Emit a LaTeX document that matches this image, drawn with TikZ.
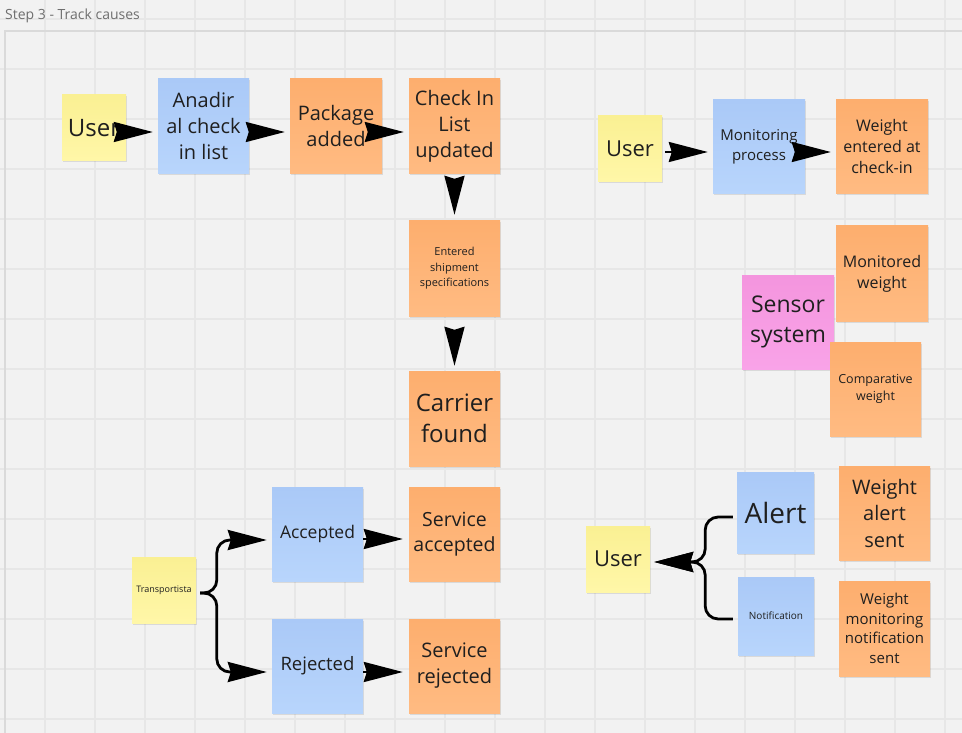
\documentclass[tikz,border=0pt]{standalone}
\usepackage{fontspec}
\setmainfont{Open Sans}
\usetikzlibrary{calc,arrows.meta,shadows}
\definecolor{bgc}{HTML}{F2F2F2}
\definecolor{gridc}{HTML}{E7E7E7}
\definecolor{framec}{HTML}{DADADA}
\definecolor{titlec}{HTML}{6E6E6E}
\definecolor{txtc}{HTML}{1F1F1F}
\definecolor{yelT}{HTML}{FAF093}
\definecolor{yelB}{HTML}{FFF7A8}
\definecolor{bluT}{HTML}{AAC9F7}
\definecolor{bluB}{HTML}{B8D5FC}
\definecolor{orgT}{HTML}{FDAE6E}
\definecolor{orgB}{HTML}{FFBB82}
\definecolor{pnkT}{HTML}{F495DE}
\definecolor{pnkB}{HTML}{F9A3E8}
\newcommand\fsz[2]{\fontsize{#1}{#2}\selectfont}
\tikzset{
  note/.style 2 args={minimum width=#1pt, minimum height=#2pt, inner sep=0pt,
    align=center, text=txtc,
    general shadow={shadow xshift=0.5pt, shadow yshift=-1.5pt, fill=black, opacity=0.10}},
  yel/.style={top color=yelT, bottom color=yelB},
  blu/.style={top color=bluT, bottom color=bluB},
  org/.style={top color=orgT, bottom color=orgB},
  pnk/.style={top color=pnkT, bottom color=pnkB},
  conn/.style={line width=2.4pt, black, -{Stealth[length=39pt,width=20pt,inset=3pt]}},
  bconn/.style={conn, line width=2.8pt, rounded corners=13pt},
}
\begin{document}
\begin{tikzpicture}[x=1pt,y=-1pt]
\useasboundingbox (0,0) rectangle (962,733);
\fill[bgc] (0,0) rectangle (962,733);
\foreach \x in {45,95,...,945} \draw[gridc, line width=1.5pt] (\x,0) -- (\x,733);
\foreach \y in {19,69,...,719} \draw[gridc, line width=1.5pt] (0,\y) -- (962,\y);
\draw[framec, line width=1.2pt] (5,740) -- (5,31) -- (970,31);
\node[anchor=base west, text=titlec, font=\fsz{14}{17}, inner sep=0pt] (title) at (5,19.5) {Step 3 - Track causes};

% top-left flow
\node[note={64}{66}, yel, font=\fsz{24}{30}] (U1) at (94,128) {User};
\node[note={91}{95}, blu, font=\fsz{20}{26}] (Ana) at (203.5,126.5) {Anadir\\al check\\in list};
\node[note={92}{95}, org, font=\fsz{20}{26}] (Pkg) at (336,126.5) {Package\\added};
\node[note={91}{95}, org, font=\fsz{20}{26}] (Chk) at (454.5,126.5) {Check In\\List\\updated};
\node[note={91}{95}, org, font=\fsz{11}{15.5}] (Ent) at (454.5,268.5) {Entered\\shipment\\specifications};
\node[note={91}{95}, org, font=\fsz{24}{31}] (Car) at (454.5,418.5) {Carrier\\found};

% top-right
\node[note={64}{66}, yel, font=\fsz{22}{28}] (U2) at (630,149) {User};
\node[note={92}{94}, blu, font=\fsz{15}{20}] (Mon) at (759,147) {Monitoring\\process};
\node[note={92}{94}, org, font=\fsz{16}{21}] (WEnt) at (882,147) {Weight\\entered at\\check-in};
\node[note={92}{95}, org, font=\fsz{16}{21}] (MonW) at (882,273.5) {Monitored\\weight};
\node[note={92}{94}, pnk, font=\fsz{23}{30.5}] (Sens) at (788,322) {Sensor\\system};
\node[note={91}{94}, org, font=\fsz{12.5}{16.5}] (Comp) at (875.5,389) {Comparative\\weight};

% bottom-left
\node[note={64}{66}, yel, font=\fsz{9}{11}] (Trans) at (164,590) {Transportista};
\node[note={91}{94}, blu, font=\fsz{17.5}{22}] (Acc) at (317.5,534) {Accepted};
\node[note={91}{94}, org, font=\fsz{19.5}{24.5}] (SAcc) at (454.5,534) {Service\\accepted};
\node[note={91}{94}, blu, font=\fsz{18.5}{23}] (Rej) at (317.5,666) {Rejected};
\node[note={91}{94}, org, font=\fsz{20}{26}] (SRej) at (454.5,666) {Service\\rejected};

% bottom-right
\node[note={64}{66}, yel, font=\fsz{22}{28}] (U3) at (618,559) {User};
\node[note={77}{81}, blu, font=\fsz{28}{34}] (Alert) at (775.5,512.5) {Alert};
\node[note={76}{78}, blu, font=\fsz{10}{13}] (Notif) at (776,616) {Notification};
\node[note={91}{94}, org, font=\fsz{20}{26.5}] (WAS) at (884.5,513) {Weight\\alert\\sent};
\node[note={91}{95}, org, font=\fsz{15}{19.5}] (WMNS) at (884.5,628.5) {Weight\\monitoring\\notification\\sent};

% connectors
\draw[conn] ($(U1.east)+(0,4)$) -- ($(Ana.west)+(-5,5.5)$);
\draw[conn] ($(Ana.east)+(0,5.5)$) -- ($(Pkg.west)+(-5,5.5)$);
\draw[conn] ($(Pkg.east)+(0,5.5)$) -- ($(Chk.west)+(-5,5.5)$);
\draw[conn] ($(Chk.south)+(0,6)$) -- ($(Ent.north)+(0,-6)$);
\draw[conn] ($(Ent.south)+(0,14)$) -- ($(Car.north)+(0,-5)$);

\draw[conn] ($(U2.east)+(3,3)$) -- ($(Mon.west)+(-5,5)$);
\draw[conn] ($(Mon.east)+(0,5)$) -- ($(WEnt.west)+(-5,5)$);

\draw[bconn] ($(Trans.east)+(4,3)$) -| ($(Acc.west)+(-55,6)$) -- ($(Acc.west)+(-5,6)$);
\draw[bconn] ($(Trans.east)+(4,3)$) -| ($(Rej.west)+(-55,6)$) -- ($(Rej.west)+(-5,6)$);
\draw[conn] ($(Acc.east)+(0,5)$) -- ($(SAcc.west)+(-6,5)$);
\draw[conn] ($(Rej.east)+(0,6)$) -- ($(SRej.west)+(-6,6)$);

\draw[bconn] ($(Alert.west)+(-4,4.5)$) -| ($(U3.east)+(55,3)$) -- ($(U3.east)+(4,3)$);
\draw[bconn] ($(Notif.west)+(-5,3)$) -| ($(U3.east)+(55,3)$) -- ($(U3.east)+(4,3)$);
\end{tikzpicture}
\end{document}
